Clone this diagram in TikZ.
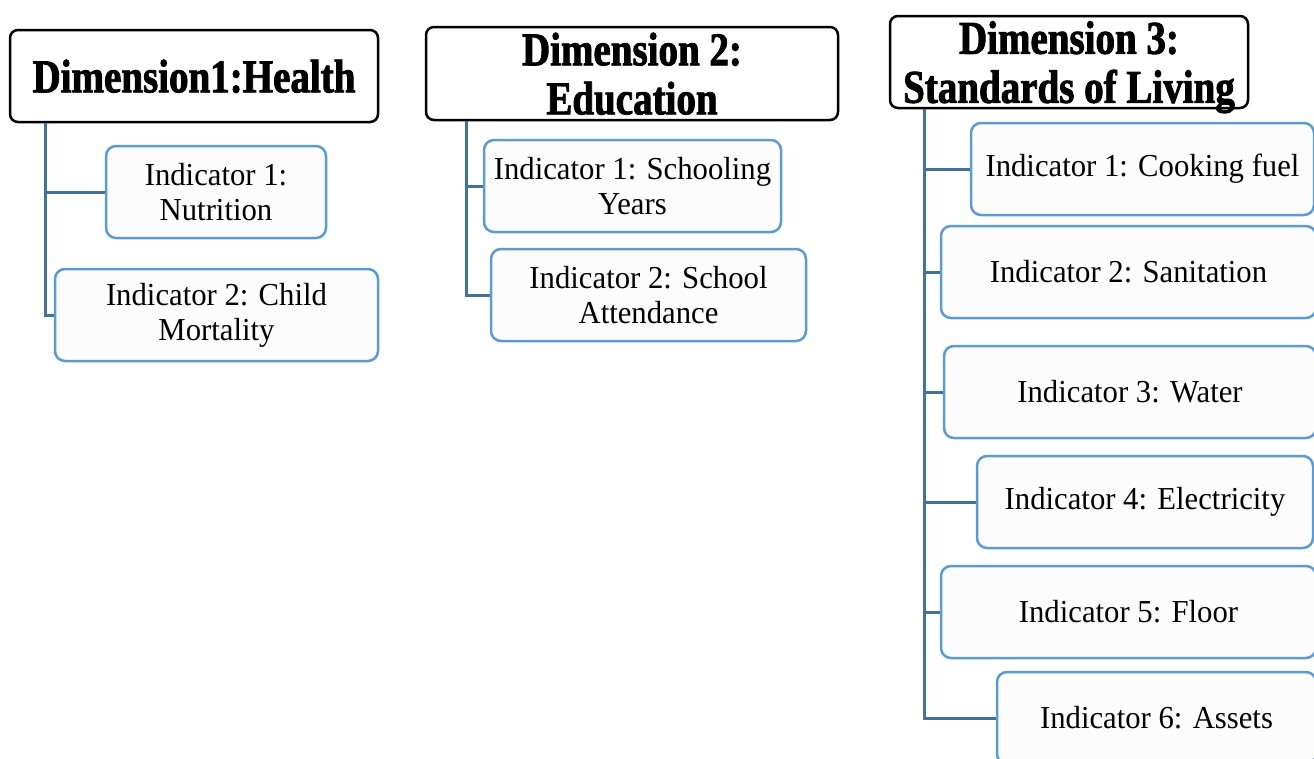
\documentclass[tikz,border=0pt]{standalone}
\usepackage{fontspec}
\setmainfont{Liberation Serif}
\newfontfamily\headfont[FakeStretch=0.83,FakeBold=1.8]{Liberation Serif Bold}
\newfontfamily\indfont[FakeStretch=0.96]{Liberation Serif}
\definecolor{boxblue}{RGB}{91,155,213}
\definecolor{linkblue}{RGB}{65,113,156}

\begin{document}
\begin{tikzpicture}[x=1pt,y=-1pt,
  dimbox/.style={draw=black,line width=2.5pt,rounded corners=8pt,fill=white,
    minimum height=92pt,inner sep=0pt,align=center,text depth=0pt,
    font=\headfont\fontsize{47}{49}\selectfont},
  indbox/.style={draw=boxblue,line width=2.5pt,rounded corners=10pt,fill=white!99!black,
    minimum height=92pt,inner sep=0pt,align=center,
    font=\indfont\fontsize{32}{35}\selectfont},
  link/.style={draw=linkblue,line width=3pt}]

\useasboundingbox (0,0) rectangle (1314,758);

% Dimension 1
\node[dimbox,minimum width=368pt] (d1) at (194,76) {Dimension1:Health};
\node[indbox,minimum width=220pt] (h1) at (216,192) {Indicator 1:\\Nutrition};
\node[indbox,minimum width=323pt] (h2) at (216.5,315) {Indicator 2: Child\\Mortality};
\draw[link] (d1.south west) ++(37,0) |- (h1.west);
\draw[link] (d1.south west) ++(37,0) |- (h2.west);

% Dimension 2
\node[dimbox,minimum width=412pt,minimum height=93pt] (d2) at (632,73.5) {Dimension 2:\\Education};
\node[indbox,minimum width=297pt] (e1) at (632.5,186) {Indicator 1: Schooling\\Years};
\node[indbox,minimum width=315pt] (e2) at (648.5,295) {Indicator 2: School\\Attendance};
\draw[link] (d2.south west) ++(42,0) |- (e1.west);
\draw[link] (d2.south west) ++(42,0) |- (e2.west);

% Dimension 3
\node[dimbox,minimum width=358pt] (d3) at (1069,62) {Dimension 3:\\Standards of Living};
\foreach \n/\cx/\cy/\w/\txt in {1/1142.5/169/343/Cooking fuel,
  2/1128.5/272/375/Sanitation, 3/1130/392/372/Water,
  4/1145/502/336/Electricity, 5/1128.5/612/375/Floor,
  6/1156.5/718/319/Assets}
{\node[indbox,minimum width=\w pt] (l\n) at (\cx,\cy) {Indicator \n: \txt};
\draw[link] (d3.south west) ++(36,0) |- (l\n.west);}
\end{tikzpicture}
\end{document}
